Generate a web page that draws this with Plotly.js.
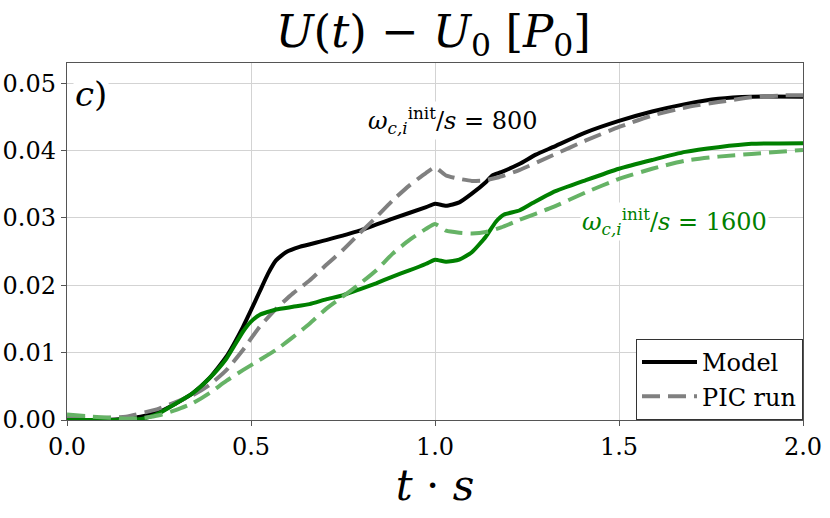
<!DOCTYPE html>
<html>
<head>
<meta charset="utf-8">
<script src="https://cdn.plot.ly/plotly-3.0.1.min.js"></script>
<style>
  html, body { margin: 0; padding: 0; background: #fff; }
  #plot { width: 830px; height: 518px; }
</style>
</head>
<body>
<div id="plot"></div>
<script>
// values

// omega/s = 800, model (black solid)
const tModel800 = [0.0, 0.1, 0.16, 0.2, 0.25, 0.297, 0.342, 0.387, 0.433, 0.478, 0.5, 0.523, 0.546, 0.568, 0.595, 0.632, 0.704, 0.795, 0.885, 0.976, 1.0, 1.03, 1.066, 1.1, 1.138, 1.156, 1.18, 1.229, 1.274, 1.32, 1.41, 1.5, 1.59, 1.68, 1.77, 1.86, 2.0];
const uModel800 = [0.0, 0.0, 0.0002, 0.0005, 0.0012, 0.0025, 0.0040, 0.0062, 0.0094, 0.0138, 0.0163, 0.0190, 0.0217, 0.0237, 0.0249, 0.0257, 0.0267, 0.0281, 0.0299, 0.0316, 0.0321, 0.0318, 0.0323, 0.0336, 0.0353, 0.0363, 0.0368, 0.0380, 0.0394, 0.0405, 0.0427, 0.0444, 0.0458, 0.0469, 0.0477, 0.0480, 0.0480];

// omega/s = 800, PIC run (gray dashed)
const tPic800 = [0.0, 0.08, 0.16, 0.25, 0.297, 0.342, 0.387, 0.433, 0.478, 0.523, 0.568, 0.614, 0.659, 0.704, 0.749, 0.795, 0.84, 0.885, 0.93, 0.976, 1.0, 1.03, 1.066, 1.1, 1.138, 1.17, 1.229, 1.32, 1.41, 1.5, 1.59, 1.68, 1.77, 1.86, 1.95, 2.0];
const uPic800 = [0.0004, 0.0003, 0.0005, 0.0017, 0.0027, 0.0037, 0.0052, 0.0074, 0.0104, 0.0138, 0.0165, 0.0188, 0.0207, 0.0230, 0.0252, 0.0277, 0.0301, 0.0326, 0.0348, 0.0367, 0.0375, 0.0363, 0.0358, 0.0355, 0.0356, 0.0360, 0.0371, 0.0393, 0.0415, 0.0435, 0.0452, 0.0464, 0.0472, 0.0479, 0.0482, 0.0482];

// omega/s = 1600, model (green solid)
const tModel1600 = [0.0, 0.1, 0.206, 0.25, 0.297, 0.342, 0.387, 0.433, 0.478, 0.5, 0.523, 0.568, 0.614, 0.659, 0.704, 0.749, 0.795, 0.84, 0.885, 0.93, 0.976, 1.0, 1.03, 1.066, 1.1, 1.138, 1.165, 1.188, 1.229, 1.265, 1.32, 1.41, 1.5, 1.59, 1.68, 1.77, 1.86, 2.0];
const uModel1600 = [0.0, 0.0, 0.0002, 0.0010, 0.0025, 0.0040, 0.0062, 0.0091, 0.0131, 0.0146, 0.0156, 0.0164, 0.0168, 0.0172, 0.0179, 0.0185, 0.0194, 0.0203, 0.0213, 0.0222, 0.0232, 0.0238, 0.0235, 0.0238, 0.0249, 0.0272, 0.0294, 0.0305, 0.0311, 0.0322, 0.0338, 0.0356, 0.0373, 0.0386, 0.0398, 0.0405, 0.0410, 0.0411];

// omega/s = 1600, PIC run (light green dashed)
const tPic1600 = [0.0, 0.07, 0.16, 0.206, 0.25, 0.297, 0.342, 0.387, 0.433, 0.478, 0.523, 0.568, 0.614, 0.659, 0.704, 0.749, 0.795, 0.84, 0.885, 0.93, 0.976, 1.0, 1.03, 1.066, 1.1, 1.138, 1.18, 1.229, 1.32, 1.41, 1.5, 1.59, 1.68, 1.77, 1.86, 2.0];
const uPic1600 = [0.0008, 0.0005, 0.0002, 0.0003, 0.0007, 0.0015, 0.0025, 0.0040, 0.0058, 0.0074, 0.0089, 0.0104, 0.0123, 0.0143, 0.0165, 0.0183, 0.0202, 0.0222, 0.0247, 0.0267, 0.0284, 0.0291, 0.0281, 0.0278, 0.0277, 0.0279, 0.0286, 0.0297, 0.0316, 0.0338, 0.0358, 0.0373, 0.0385, 0.0391, 0.0395, 0.0401];

const xTicks = [0.0, 0.5, 1.0, 1.5, 2.0];
const yTicks = [0.00, 0.01, 0.02, 0.03, 0.04, 0.05];

const serif = 'DejaVu Serif';
const lw = 4;
const dashed = '18px,8px';

let traces = [
    {
        x: tModel800, y: uModel800, name: 'Model', mode: 'lines',
        line: {color: '#000000', width: lw, shape: 'spline', smoothing: 0.5}
    },
    {
        x: tPic800, y: uPic800, name: 'PIC run', mode: 'lines',
        line: {color: '#808080', width: lw, dash: dashed, shape: 'spline', smoothing: 0.5}
    },
    {
        x: tModel1600, y: uModel1600, mode: 'lines', showlegend: false,
        line: {color: '#008000', width: lw, shape: 'spline', smoothing: 0.5}
    },
    {
        x: tPic1600, y: uPic1600, mode: 'lines', showlegend: false,
        line: {color: '#66b366', width: lw, dash: dashed, shape: 'spline', smoothing: 0.5}
    }
];

let layout = {
    width: 830,
    height: 518,
    margin: {l: 67, r: 27, t: 63, b: 98},
    paper_bgcolor: '#ffffff',
    plot_bgcolor: '#ffffff',
    font: {family: serif, color: '#000000', size: 24},
    title: {
        text: '<i>U</i>(<i>t</i>) − <i>U</i><sub>0</sub> [<i>P</i><sub>0</sub>]',
        font: {family: serif, size: 45, color: '#000000'},
        x: 0.522, xanchor: 'center',
        y: 0.94, yanchor: 'middle'
    },
    xaxis: {
        range: [0, 2.0],
        tickvals: xTicks,
        tickformat: '.1f',
        ticks: 'outside', ticklen: 5, tickcolor: '#555',
        showline: true, linecolor: '#555', linewidth: 1.2, mirror: true,
        showgrid: true, gridcolor: '#d3d3d3', gridwidth: 1,
        zeroline: false,
        tickfont: {family: serif, size: 24},
        title: {text: '<i>t</i> · <i>s</i>', font: {family: serif, size: 42}, standoff: 6}
    },
    yaxis: {
        range: [0, 0.053],
        tickvals: yTicks,
        tickformat: '.2f',
        ticks: 'outside', ticklen: 5, tickcolor: '#555',
        showline: true, linecolor: '#555', linewidth: 1.2, mirror: true,
        showgrid: true, gridcolor: '#d3d3d3', gridwidth: 1,
        zeroline: false,
        tickfont: {family: serif, size: 24}
    },
    legend: {
        x: 1, xanchor: 'right',
        y: 0, yanchor: 'bottom',
        bgcolor: '#ffffff',
        bordercolor: '#333333', borderwidth: 1,
        font: {family: serif, size: 24},
        itemwidth: 55,
        tracegroupgap: 6
    },
    annotations: [
        {
            text: '<i>c</i>)', xref: 'paper', yref: 'paper',
            x: 0.008, y: 0.975, xanchor: 'left', yanchor: 'top',
            showarrow: false, bgcolor: '#ffffff',
            font: {family: serif, size: 34, color: '#000000'}
        },
        {
            text: '<i>ω</i><sub><i>c,i</i></sub><sup>init</sup>/<i>s</i> = 800',
            xref: 'x', yref: 'y', x: 1.05, y: 0.0444,
            xanchor: 'center', yanchor: 'middle',
            showarrow: false, bgcolor: '#ffffff',
            font: {family: serif, size: 24, color: '#000000'}
        },
        {
            text: '<i>ω</i><sub><i>c,i</i></sub><sup>init</sup>/<i>s</i> = 1600',
            xref: 'x', yref: 'y', x: 1.65, y: 0.0294,
            xanchor: 'center', yanchor: 'middle',
            showarrow: false, bgcolor: '#ffffff',
            font: {family: serif, size: 24, color: '#008000'}
        }
    ]
};

Plotly.newPlot('plot', traces, layout, {staticPlot: true});
</script>
</body>
</html>
